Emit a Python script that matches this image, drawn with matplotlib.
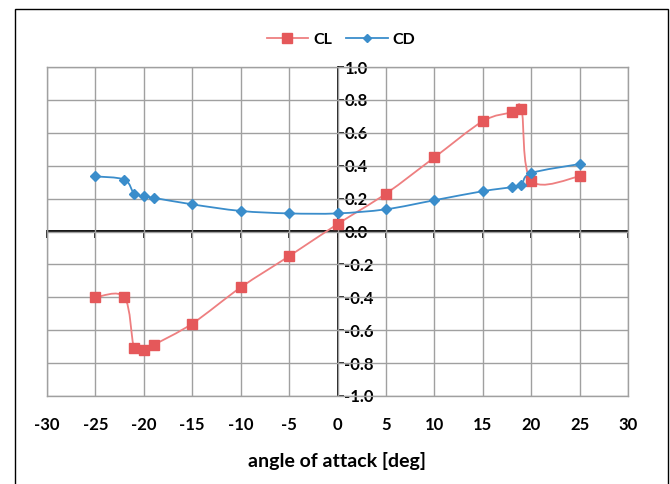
import numpy as np
import matplotlib.pyplot as plt
from matplotlib.path import Path
from matplotlib.patches import PathPatch, Rectangle
from matplotlib.lines import Line2D

plt.rcParams['font.family'] = ['Lato', 'DejaVu Sans']
plt.rcParams['font.weight'] = 'bold'

# angle of attack [deg]
alpha = [-25, -22, -21, -20, -19, -15, -10, -5, 0, 5, 10, 15, 18, 19, 20, 25]
cl = [-0.40, -0.40, -0.71, -0.72, -0.69, -0.56, -0.34, -0.15, 0.045, 0.23,
      0.45, 0.67, 0.725, 0.745, 0.31, 0.335]
cd = [0.335, 0.315, 0.23, 0.215, 0.205, 0.165, 0.125, 0.11, 0.11, 0.135,
      0.19, 0.245, 0.27, 0.285, 0.355, 0.41]

xticks = np.arange(-30, 31, 5)
yticks = np.arange(-1.0, 1.01, 0.2)

red = '#E5585A'
red_line = '#EE7F80'
blue = '#3A8DCB'
grid = '#A0A0A0'


def smooth_path(x, y):
    # excel-like smoothed line: bezier segments with 1/6 tangents
    pts = np.column_stack([x, y]).astype(float)
    n = len(pts)
    verts = [pts[0]]
    codes = [Path.MOVETO]
    for i in range(n - 1):
        p0 = pts[i - 1] if i > 0 else pts[i]
        p1 = pts[i]
        p2 = pts[i + 1]
        p3 = pts[i + 2] if i + 2 < n else pts[i + 1]
        c1 = p1 + (p2 - p0) / 6.0
        c2 = p2 - (p3 - p1) / 6.0
        verts += [c1, c2, p2]
        codes += [Path.CURVE4] * 3
    return Path(verts, codes)


fig = plt.figure(figsize=(6.7, 4.84), dpi=100)
ax = fig.add_axes([47 / 670, 1 - 396 / 484, (628 - 47) / 670, (396 - 67) / 484])

ax.set_xlim(-30, 30)
ax.set_ylim(-1, 1)
ax.set_xticks(xticks)
ax.set_yticks(yticks)
ax.grid(True, color=grid, lw=1.0)
ax.set_axisbelow(True)
for s in ax.spines.values():
    s.set_color(grid)
    s.set_linewidth(1.0)

ax.tick_params(axis='x', length=0, pad=15, labelsize=12)
ax.set_xticklabels(['%d' % v for v in xticks])
ax.tick_params(axis='y', length=0, labelleft=False)

# axes through the origin
secx = ax.secondary_xaxis(0.5)
secx.set_xticks(xticks)
secx.xaxis.set_ticks_position('bottom')
secx.tick_params(axis='x', direction='out', length=4, width=1.2, color='black',
                 labelbottom=False, labeltop=False)
for s in secx.spines.values():
    s.set_color('black')
    s.set_linewidth(1.3)

secy = ax.secondary_yaxis(0.5)
secy.set_yticks(yticks)
secy.set_yticklabels(['%.1f' % abs(v) if abs(v) < 1e-9 else '%.1f' % v for v in yticks])
secy.tick_params(axis='y', direction='out', length=4, width=1.2, color='black', pad=1, labelsize=12)
for s in secy.spines.values():
    s.set_color('black')
    s.set_linewidth(1.3)

ax.add_patch(PathPatch(smooth_path(alpha, cl), fill=False, edgecolor=red_line, lw=1.3, zorder=3))
ax.add_patch(PathPatch(smooth_path(alpha, cd), fill=False, edgecolor=blue, lw=1.3, zorder=3))
ax.plot(alpha, cl, ls='none', marker='s', ms=6.5, color=red, zorder=4)
ax.plot(alpha, cd, ls='none', marker='D', ms=5.5, color=blue, zorder=4)

ax.set_xlabel('angle of attack [deg]', fontsize=14, fontweight='bold', labelpad=14)

handles = [Line2D([], [], color=red_line, marker='s', mfc=red, mec=red, ms=6.5, lw=1.3),
           Line2D([], [], color=blue, marker='D', ms=4.5, lw=1.3)]
fig.legend(handles, ['CL', 'CD'], loc='center', bbox_to_anchor=(341 / 670, 1 - 40 / 484),
           ncol=2, frameon=False, fontsize=11.5, handlelength=2.6, columnspacing=0.9,
           handletextpad=0.3)

fig.add_artist(Rectangle((15 / 670, -0.1), (668 - 15) / 670, 1.1 - 9 / 484,
                         transform=fig.transFigure, fill=False, edgecolor='black',
                         lw=1.0, clip_on=False))

fig.savefig('out.png', dpi=100)
